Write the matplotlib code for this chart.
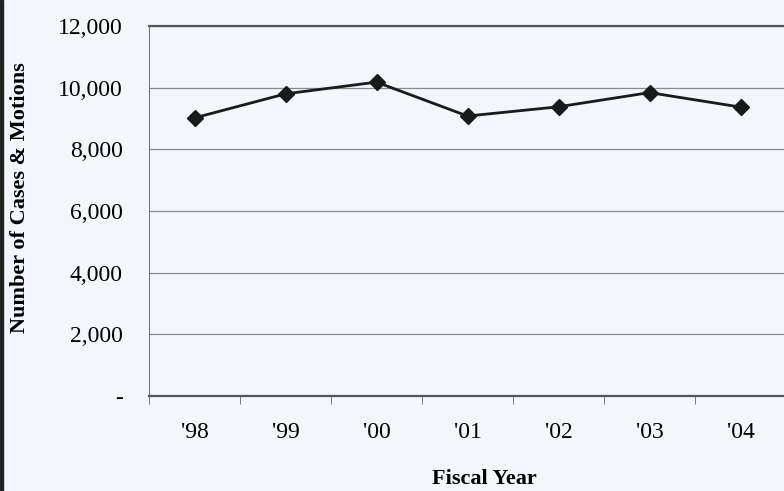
import matplotlib.pyplot as plt
from matplotlib.patches import Rectangle

years = ["'98", "'99", "'00", "'01", "'02", "'03", "'04"]
cases = [9020, 9800, 10180, 9080, 9380, 9840, 9370]
yticks = [0, 2000, 4000, 6000, 8000, 10000, 12000]
ytick_labels = ['-', '2,000', '4,000', '6,000', '8,000', '10,000', '12,000']

bg = '#f3f6fc'
plt.rcParams['font.family'] = ['Liberation Serif', 'DejaVu Serif']

fig = plt.figure(figsize=(7.84, 4.91), dpi=100, facecolor=bg)
ax = fig.add_axes([149 / 784, 1 - 396 / 491, 637 / 784, 370 / 491])
ax.set_facecolor(bg)

x = list(range(len(years)))
ax.plot(x, cases, color='#1a1a1a', lw=2, marker='D', markersize=8,
        markerfacecolor='#1a1a1a', markeredgecolor='#1a1a1a', zorder=3)

ax.set_xlim(-0.5, len(years) - 0.5)
ax.set_ylim(0, 12000)
ax.set_yticks(yticks)
ax.set_yticklabels(ytick_labels, fontsize=17)
ax.yaxis.grid(True, color='#8a8a8a', lw=0.9)
ax.set_axisbelow(True)

# category labels between boundary ticks
ax.set_xticks(x)
ax.set_xticklabels(years, fontsize=17)
ax.tick_params(axis='x', which='major', length=0, pad=19)
ax.set_xticks([i - 0.5 for i in range(len(years) + 1)], minor=True)
ax.tick_params(axis='x', which='minor', length=6, color='#666666', direction='out')
ax.tick_params(axis='y', length=0, pad=19)

for s in ['top', 'right']:
    ax.spines[s].set_visible(False)
ax.spines['left'].set_color('#777777')
ax.spines['bottom'].set_color('#555555')
ax.spines['bottom'].set_linewidth(1.6)
ax.axhline(12000, color='#555555', lw=1.6, clip_on=False)

ax.set_xlabel('Fiscal Year', fontsize=16, fontweight='bold')
ax.xaxis.set_label_coords((484 - 149) / 637, -(469 - 396) / 370)
ax.set_ylabel('Number of Cases & Motions', fontsize=16, fontweight='bold')
ax.yaxis.set_label_coords(-(149 - 30) / 637, (396 - 198) / 370)

# dark left edge of the scanned page
fig.patches.append(Rectangle((0, 0), 3 / 784, 1, transform=fig.transFigure,
                             color='#222222', zorder=5))

fig.savefig('out.png', dpi=100, facecolor=bg)
